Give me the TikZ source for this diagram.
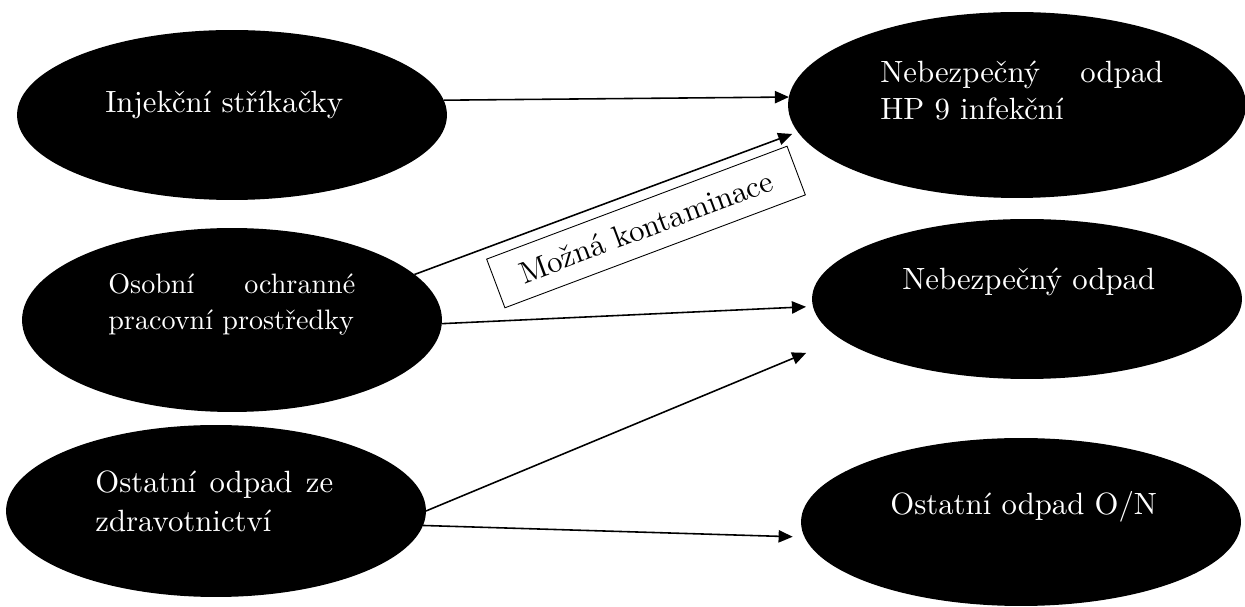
\documentclass[tikz,border=0pt]{standalone}
\usepackage{fontspec}
\setmainfont{lmroman10-regular.otf}
\usepackage{tikz}
\usetikzlibrary{shapes.geometric,arrows.meta}

\begin{document}
\begin{tikzpicture}[x=0.02cm,y=-0.02cm,
  blob/.style={ellipse,fill=black,draw=none,inner sep=0pt,outer sep=0pt},
  lbl/.style={text=white,inner sep=0pt,anchor=base west,align=left,font=\fontsize{17.5}{21.6}\selectfont},
  arr/.style={-{Triangle[length=8pt,width=7pt]},line width=0.9pt}]
\useasboundingbox (0,0) rectangle (1245,607);

% ellipses
\node (inj) [blob,minimum width=8.6cm,minimum height=3.4cm] at (232,115) {};
\node (hp)  [blob,minimum width=9.16cm,minimum height=3.72cm] at (1017,105) {};
\node (oop) [blob,minimum width=8.4cm,minimum height=3.68cm] at (232,320) {};
\node (neb) [blob,minimum width=8.6cm,minimum height=3.2cm] at (1027,299) {};
\node (ost) [blob,minimum width=8.4cm,minimum height=3.44cm] at (216,511) {};
\node (on)  [blob,minimum width=8.8cm,minimum height=3.36cm] at (1021,522) {};

% texts (base = last line)
\node (injtext) [lbl] at (105,113) {Injekční stříkačky};
\node (hptext)  [lbl] at (880,120) {\makebox[5.66cm][s]{Nebezpečný odpad}\\HP 9 infekční};
\node (ooptext) [lbl,font=\fontsize{16}{21}\selectfont] at (108,330) {\makebox[4.94cm][s]{Osobní ochranné}\\pracovní prostředky};
\node (nebtext) [lbl] at (902,290) {Nebezpečný odpad};
\node (osttext) [lbl,font=\fontsize{17.5}{22.2}\selectfont] at (95,532) {\makebox[4.76cm][s]{Ostatní odpad ze}\\zdravotnictví};
\node (ontext)  [lbl] at (890,515) {Ostatní odpad O/N};

% arrows
\draw[arr] (inj.4) -- (hp.178);
\draw[arr,shorten >=0.12cm] (oop.14) -- (hp.187);
\draw[arr,shorten >=0.14cm] (oop.-1) -- (neb.182);
\draw[arr,shorten >=0.74cm] (ost.0) -- (neb.192);
\draw[arr,shorten >=0.24cm] (ost.-4) -- (on.184);

\node (cont) [draw,fill=white,line width=0.5pt,rotate=20.6,minimum width=6.42cm,minimum height=1.04cm,inner sep=0pt,font=\fontsize{17.5}{21}\selectfont] at (646,227) {Možná kontaminace};
\end{tikzpicture}
\end{document}
